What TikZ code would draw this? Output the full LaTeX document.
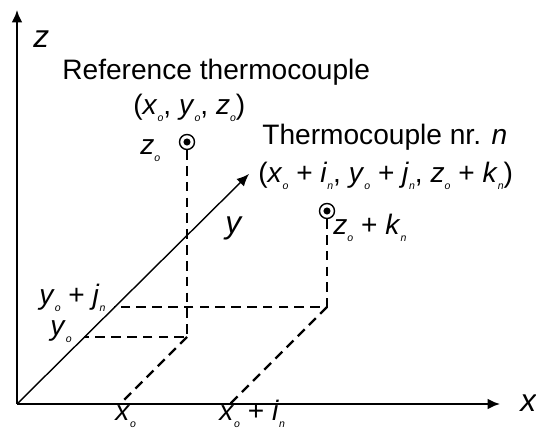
\documentclass[tikz,border=0pt]{standalone}
\usepackage{fontspec}
\setmainfont{Liberation Sans}
\usetikzlibrary{arrows.meta, positioning}

% italic letter with a tiny subscript
\newcommand{\idx}[2]{\textit{#1}\raisebox{-.45ex}{\fontsize{6}{6}\selectfont\textit{#2}}}

\tikzset{
    lbl/.style={font=\fontsize{16}{19}\selectfont, inner sep=0pt, anchor=base west},
    axlbl/.style={font=\fontsize{18}{20}\selectfont\itshape, inner sep=0pt, anchor=base west},
    axis/.style={line width=1.1pt, -{Latex[length=7pt, width=6pt]}},
    guide/.style={line width=1.4pt, dash pattern=on 5.5pt off 3.5pt},
    tc/.style={draw, circle, line width=0.8pt, minimum size=0.3cm, inner sep=0pt}
}

\begin{document}
\begin{tikzpicture}[x=0.02cm, y=0.02cm]
        \useasboundingbox (-17,-27) rectangle (519,404);

        % Trục toạ độ
        \coordinate (O) at (0,0);
        \draw[axis] (O) -- (483,0) coordinate (xend);
        \draw[axis] (O) -- (0,394) coordinate (zend);
        \draw[line width=0.8pt, -{Latex[length=7pt, width=6pt]}] (O) -- (232,230) coordinate (yend);
        \node[axlbl] (xlab) at (503,-8) {x};
        \node[axlbl] (zlab) at (16,356) {z};
        \node[axlbl] (ylab) at (208,170) {y};

        % Cặp nhiệt chuẩn
        \node[tc] (refpt) at (170,262) {};
        \filldraw (refpt.center) circle (1.8pt);
        \coordinate (refbase) at (170,67);
        \coordinate (refy) at (67,67);
        \coordinate (refx) at (103,0);
        \draw[guide] (refpt.south) -- (refbase) -- (refy);
        \draw[guide] (refbase) -- (refx);
        \node[lbl] (reflab) at (45,324) {Reference thermocouple};
        \node[lbl] (refcoord) at (116,289) {(\idx{x}{o}, \idx{y}{o}, \idx{z}{o})};
        \node[lbl] (refz) at (123,249) {\idx{z}{o}};

        % Cặp nhiệt thứ n
        \node[tc] (nrpt) at (310,193) {};
        \filldraw (nrpt.center) circle (1.8pt);
        \coordinate (nrbase) at (310,97);
        \coordinate (nry) at (97,97);
        \coordinate (nrx) at (213,0);
        \draw[guide] (nrpt.south) -- (nrbase) -- (nry);
        \draw[guide] (nrbase) -- (nrx);
        \node[lbl] (nrlab) at (245,259) {Thermocouple nr. \textit{n}};
        \node[lbl] (nrcoord) at (241,221) {(\idx{x}{o} + \idx{i}{n}, \idx{y}{o} + \idx{j}{n}, \idx{z}{o} + \idx{k}{n})};
        \node[lbl] (nrz) at (316,169) {\idx{z}{o} + \idx{k}{n}};

        % Nhãn trên các trục
        \node[lbl] (yjlab) at (22,99) {\idx{y}{o} + \idx{j}{n}};
        \node[lbl] (yolab) at (33,68) {\idx{y}{o}};
        \node[lbl] (xolab) at (98,-17) {\idx{x}{o}};
        \node[lbl] (xilab) at (202,-17) {\idx{x}{o} + \idx{i}{n}};
    \end{tikzpicture}
\end{document}
